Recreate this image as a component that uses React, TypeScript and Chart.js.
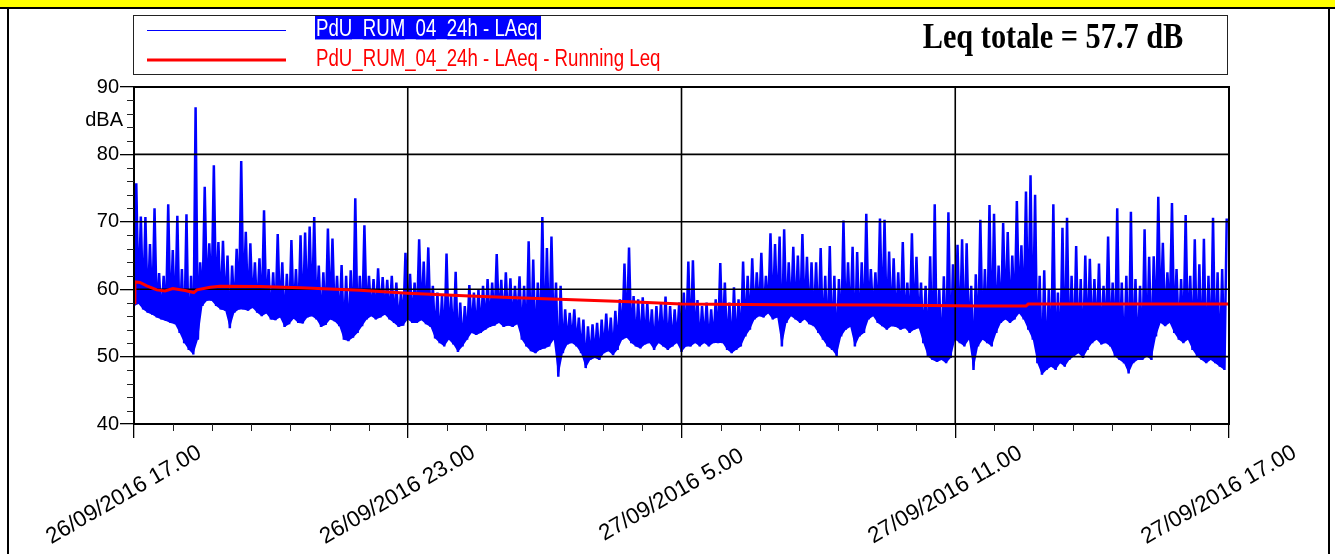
import { useEffect, useRef } from "react";
import { Chart, registerables } from "chart.js";

Chart.register(...registerables);

const W = 1335;
const H = 554;

// LAeq series, one bin every 0.1 h: minimum and maximum level in each bin (dBA)
const BIN_HOURS = 0.1;
const lowLevels = [
  57.5, 57.8, 57.0, 56.5, 56.2, 55.8, 55.5, 55.3, 55.0, 54.8,
  53.5, 52.0, 51.0, 50.3, 52.5, 57.5, 58.3, 58.3, 57.5, 57.0,
  56.8, 54.2, 56.5, 57.0, 57.0, 56.8, 57.2, 56.5, 56.0, 56.4,
  55.5, 55.4, 55.8, 54.4, 54.8, 55.6, 55.0, 54.9, 55.8, 56.0,
  55.5, 54.4, 54.7, 55.5, 55.2, 54.5, 52.5, 52.3, 52.8, 53.5,
  54.5, 55.5, 56.0, 55.5, 55.8, 56.2, 55.5, 55.0, 54.4, 54.6,
  55.5, 55.0, 55.0, 55.4, 54.8, 54.4, 52.7, 52.0, 51.5, 52.5,
  51.8, 50.7, 51.5, 52.5, 53.5, 53.2, 53.5, 54.0, 54.4, 54.6,
  55.0, 54.4, 54.6, 54.4, 54.8, 52.5, 51.5, 50.8, 50.5, 51.0,
  51.2, 51.5, 52.5, 47.0, 50.5, 51.8, 52.0, 51.5, 50.5, 48.3,
  49.5, 49.8, 49.5, 50.5, 50.8, 50.2, 51.0, 52.5, 52.8, 52.0,
  51.5, 51.2, 51.8, 52.0, 51.0, 52.0, 51.5, 51.0, 51.5, 52.0,
  50.7, 51.5, 51.5, 52.0, 51.5, 52.0, 51.5, 52.0, 52.0, 52.0,
  51.0, 50.5, 51.0, 51.5, 53.0, 54.0, 55.5, 56.0, 55.8, 56.4,
  55.5, 55.8, 51.5, 55.0, 56.0, 55.5, 55.0, 55.5, 54.8, 54.5,
  53.5, 52.5, 51.5, 51.0, 50.1, 53.0, 54.0, 54.4, 51.5, 53.0,
  53.5, 55.5, 56.0, 55.0, 54.5, 54.0, 54.5, 54.4, 54.0, 54.2,
  53.5, 54.0, 54.2, 52.0, 50.0, 49.5, 49.2, 49.5, 49.0, 49.8,
  52.5, 52.0, 51.5, 52.5, 48.0, 51.5, 52.5, 52.0, 51.5, 53.5,
  55.0, 55.5, 55.0, 55.5, 56.4, 55.5, 54.0, 52.5, 49.0, 47.3,
  48.0, 48.5, 48.0, 49.0, 48.5, 49.5, 50.0, 50.5, 49.8, 51.0,
  52.0, 52.5, 51.8, 52.0, 51.5, 50.0, 49.5, 49.0, 47.5, 49.0,
  49.5, 49.5, 50.0, 49.5, 53.0, 55.0, 54.5, 55.0, 53.5, 52.5,
  52.0, 52.5, 51.0, 50.0, 49.5, 49.0, 49.5, 49.0, 48.5, 48.0,
];
const highLevels = [
  75.7, 70.8, 70.7, 66.7, 72.0, 62.4, 62.0, 72.6, 65.8, 70.9,
  63.0, 71.1, 62.0, 87.0, 64.0, 75.2, 66.8, 78.4, 67.0, 67.2,
  65.0, 63.5, 66.0, 79.0, 68.5, 66.8, 64.0, 64.6, 71.7, 63.0,
  62.5, 68.2, 64.0, 62.3, 67.3, 63.0, 68.0, 68.4, 69.3, 70.7,
  63.5, 62.5, 69.0, 67.5, 62.0, 63.6, 62.0, 62.8, 73.5, 62.0,
  69.5, 62.0, 61.5, 63.1, 61.8, 61.4, 62.0, 61.0, 59.5, 65.4,
  62.3, 61.0, 67.4, 64.1, 66.2, 60.5, 59.5, 59.0, 65.3, 59.0,
  62.6, 58.0, 57.5, 60.6, 59.5, 60.0, 60.5, 61.5, 61.0, 65.2,
  61.4, 62.5, 61.6, 60.5, 61.9, 60.5, 67.1, 64.4, 61.0, 70.7,
  66.1, 67.8, 61.0, 60.5, 57.0, 56.5, 57.0, 55.8, 55.5, 54.5,
  54.8, 55.0, 55.5, 56.4, 55.8, 56.8, 58.5, 63.8, 66.2, 59.0,
  58.5, 58.8, 58.0, 57.0, 57.5, 58.0, 58.9, 57.5, 57.0, 58.0,
  59.5, 64.1, 64.3, 58.4, 57.5, 58.0, 57.0, 58.5, 63.9, 61.0,
  58.0, 60.3, 58.5, 64.1, 62.0, 64.6, 62.5, 65.4, 62.0, 68.3,
  66.7, 67.8, 68.9, 64.0, 66.3, 65.0, 68.2, 64.8, 64.0, 64.0,
  66.1, 62.0, 66.4, 62.0, 61.5, 70.2, 64.0, 66.3, 65.5, 64.0,
  71.2, 63.0, 62.5, 70.5, 70.3, 65.6, 64.6, 62.5, 67.0, 61.0,
  68.3, 64.8, 61.0, 60.5, 64.9, 72.6, 60.0, 61.9, 71.4, 63.7,
  66.6, 67.4, 66.8, 60.5, 62.2, 70.3, 63.0, 72.5, 71.2, 63.5,
  69.8, 68.5, 65.0, 73.1, 66.5, 74.5, 76.9, 74.0, 62.0, 62.8,
  60.0, 72.6, 59.5, 69.1, 70.6, 62.0, 66.4, 61.5, 65.0, 64.5,
  61.5, 63.8, 60.5, 67.8, 61.0, 72.0, 61.0, 62.0, 71.5, 61.5,
  60.5, 68.9, 64.8, 64.9, 73.7, 66.9, 62.5, 72.8, 63.0, 61.5,
  71.0, 62.0, 67.4, 63.7, 67.5, 62.0, 70.6, 62.5, 63.0, 70.5,
];

// Running Leq (hours since 26/09/2016 17.00, dBA)
const runningHours = [0, 0.02, 0.13, 0.28, 0.5, 0.68, 0.85, 1.12, 1.31, 1.38, 1.67, 1.88, 2.76, 3.64, 4.95, 6.0, 7.36, 8.68, 9.78, 10.87, 12.0, 14.16, 16.35, 18.54, 19.55, 19.6, 24];
const runningLeq = [58.0, 61.1, 61.0, 60.5, 59.9, 59.75, 60.1, 59.8, 59.5, 59.9, 60.3, 60.45, 60.4, 60.2, 59.85, 59.4, 59.0, 58.65, 58.4, 58.15, 57.8, 57.7, 57.65, 57.5, 57.5, 57.8, 57.8];

const majorTickHours = [0, 6, 12, 18, 24];
const tickLabels = ["26/09/2016 17.00", "26/09/2016 23.00", "27/09/2016 5.00", "27/09/2016 11.00", "27/09/2016 17.00"];
const MINOR_PER_MAJOR = 7;
const seriesName = "PdU_RUM_04_24h - LAeq";
const runningName = "PdU_RUM_04_24h - LAeq - Running Leq";
const leqTotal = "57.7";
const yUnit = "dBA";

const bluePoints: { x: number; y: number }[] = [];
lowLevels.forEach((lo, i) => {
  bluePoints.push({ x: i * BIN_HOURS, y: lo });
  bluePoints.push({ x: i * BIN_HOURS + BIN_HOURS / 2, y: highLevels[i] });
});
const lowPoints = lowLevels.map((lo, i) => ({ x: i * BIN_HOURS, y: lo }));
const redPoints = runningHours.map((h, i) => ({ x: h, y: runningLeq[i] }));

const BLUE_INDEX = 1;

const framePlugin = {
  id: "frame",
  beforeDraw(chart: any) {
    const ctx = chart.ctx as CanvasRenderingContext2D;
    ctx.save();
    ctx.fillStyle = "#ffffff";
    ctx.fillRect(0, 0, W, H);
    ctx.fillStyle = "#ffff00";
    ctx.fillRect(0, 0, W, 7);
    ctx.fillStyle = "#000000";
    ctx.fillRect(0, 7, W, 2);
    ctx.fillRect(7, 7, 2, H - 7);
    ctx.fillRect(1328, 7, 2, H - 7);
    ctx.restore();
  },
  afterDatasetDraw(chart: any, args: any) {
    if (args.index !== BLUE_INDEX) return;
    const ctx = chart.ctx as CanvasRenderingContext2D;
    const a = chart.chartArea;
    const xs = chart.scales.x;
    const ys = chart.scales.y;
    ctx.save();
    ctx.strokeStyle = "#000";
    ctx.lineWidth = 1.6;
    ys.ticks.forEach((t: any) => {
      if (t.value <= ys.min || t.value >= ys.max) return;
      const py = ys.getPixelForValue(t.value);
      ctx.beginPath();
      ctx.moveTo(a.left, py);
      ctx.lineTo(a.right, py);
      ctx.stroke();
    });
    xs.ticks.forEach((t: any) => {
      if (t.value <= xs.min || t.value >= xs.max) return;
      const px = xs.getPixelForValue(t.value);
      ctx.beginPath();
      ctx.moveTo(px, a.top);
      ctx.lineTo(px, a.bottom);
      ctx.stroke();
    });
    ctx.restore();
  },
  afterDraw(chart: any) {
    const ctx = chart.ctx as CanvasRenderingContext2D;
    const a = chart.chartArea;
    const xs = chart.scales.x;
    const ys = chart.scales.y;
    ctx.save();
    // plot frame
    ctx.strokeStyle = "#000";
    ctx.lineWidth = 2;
    ctx.strokeRect(a.left, a.top, a.right - a.left, a.bottom - a.top);

    // minor ticks
    ctx.lineWidth = 1;
    ctx.strokeStyle = "#222";
    for (let v = ys.min + 2; v < ys.max; v += 2) {
      if (v % 10 === 0) continue;
      const py = Math.round(ys.getPixelForValue(v)) + 0.5;
      ctx.beginPath();
      ctx.moveTo(a.left - 7, py);
      ctx.lineTo(a.left, py);
      ctx.stroke();
    }
    for (let m = 0; m < majorTickHours.length - 1; m++) {
      const h0 = majorTickHours[m];
      const h1 = majorTickHours[m + 1];
      for (let k = 1; k < MINOR_PER_MAJOR; k++) {
        const px = Math.round(xs.getPixelForValue(h0 + ((h1 - h0) * k) / MINOR_PER_MAJOR)) + 0.5;
        ctx.beginPath();
        ctx.moveTo(px, a.bottom);
        ctx.lineTo(px, a.bottom + 7);
        ctx.stroke();
      }
    }

    // y unit
    ctx.fillStyle = "#000";
    ctx.font = '20px "Liberation Sans"';
    ctx.textAlign = "right";
    ctx.textBaseline = "middle";
    ctx.fillText(yUnit, 123, ys.getPixelForValue(85));

    // x labels
    ctx.font = '22.5px "Liberation Sans"';
    ctx.textAlign = "center";
    ctx.textBaseline = "middle";
    majorTickHours.forEach((h, i) => {
      const px = xs.getPixelForValue(h);
      ctx.save();
      ctx.translate(px - 10, 495);
      ctx.rotate((-30 * Math.PI) / 180);
      ctx.fillText(tickLabels[i], 0, 0);
      ctx.restore();
    });

    // legend box
    ctx.strokeStyle = "#222";
    ctx.lineWidth = 1;
    ctx.strokeRect(133.5, 15.5, 1094, 59);
    ctx.strokeStyle = "#0000ff";
    ctx.lineWidth = 1;
    ctx.beginPath();
    ctx.moveTo(147, 30.5);
    ctx.lineTo(286, 30.5);
    ctx.stroke();
    ctx.strokeStyle = "#ff0000";
    ctx.lineWidth = 3;
    ctx.beginPath();
    ctx.moveTo(147, 60);
    ctx.lineTo(286, 60);
    ctx.stroke();

    ctx.font = '23.5px "Liberation Sans"';
    ctx.textAlign = "left";
    ctx.textBaseline = "alphabetic";
    const w1 = ctx.measureText(seriesName).width;
    const sx = 222 / w1;
    ctx.fillStyle = "#0000ff";
    ctx.fillRect(315, 16, 226, 23.5);
    ctx.fillStyle = "#ffffff";
    ctx.save();
    ctx.translate(316, 36);
    ctx.scale(sx, 1);
    ctx.fillText(seriesName, 0, 0);
    ctx.restore();
    ctx.fillStyle = "#ff0000";
    ctx.save();
    ctx.translate(316, 66);
    ctx.scale(sx, 1);
    ctx.fillText(runningName, 0, 0);
    ctx.restore();

    // Leq totale
    const leqText = `Leq totale = ${leqTotal} dB`;
    ctx.font = 'bold 35px "Liberation Serif"';
    const wl = ctx.measureText(leqText).width;
    ctx.fillStyle = "#000";
    ctx.save();
    ctx.translate(922.7, 47.7);
    ctx.scale(260.6 / wl, 1);
    ctx.fillText(leqText, 0, 0);
    ctx.restore();

    ctx.restore();
  },
};

export default function App() {
  const ref = useRef<HTMLCanvasElement>(null);
  useEffect(() => {
    document.body.style.margin = "0";
    const canvas = ref.current!;
    const chart = new Chart(canvas, {
      type: "line",
      data: {
        datasets: [
          {
            label: runningName,
            data: redPoints,
            borderColor: "#ff0000",
            borderWidth: 3,
            pointRadius: 0,
            tension: 0,
            fill: false,
            order: 1,
          },
          {
            label: seriesName,
            data: bluePoints,
            borderColor: "#0000ff",
            backgroundColor: "#0000ff",
            borderWidth: 2.5,
            pointRadius: 0,
            tension: 0,
            fill: 2,
            order: 2,
          },
          {
            label: "bin minimum",
            data: lowPoints,
            borderColor: "rgba(0,0,0,0)",
            borderWidth: 0,
            pointRadius: 0,
            tension: 0,
            fill: false,
            order: 3,
          },
        ],
      },
      options: {
        responsive: false,
        animation: false,
        devicePixelRatio: 1,
        layout: { padding: { top: 87, right: 106, left: 0, bottom: 0 } },
        plugins: {
          legend: { display: false },
          tooltip: { enabled: false },
        },
        scales: {
          x: {
            type: "linear",
            min: 0,
            max: 24,
            afterFit: (s: any) => {
              s.height = 130;
            },
            ticks: { stepSize: 6, display: false },
            grid: { drawOnChartArea: false, drawTicks: true, tickLength: 14, color: "#000", lineWidth: 1.3 },
            border: { display: false },
          },
          y: {
            min: 40,
            max: 90,
            afterFit: (s: any) => {
              s.width = 134;
            },
            ticks: { stepSize: 10, color: "#000", font: { family: "Liberation Sans", size: 20 }, padding: 1 },
            grid: { drawOnChartArea: false, drawTicks: true, tickLength: 14, color: "#000", lineWidth: 1.3 },
            border: { display: false },
          },
        },
      } as any,
      plugins: [framePlugin],
    });
    return () => chart.destroy();
  }, []);
  return (
    <div style={{ position: "absolute", left: 0, top: 0, width: W, height: H }}>
      <canvas ref={ref} width={W} height={H} style={{ display: "block" }} />
    </div>
  );
}
